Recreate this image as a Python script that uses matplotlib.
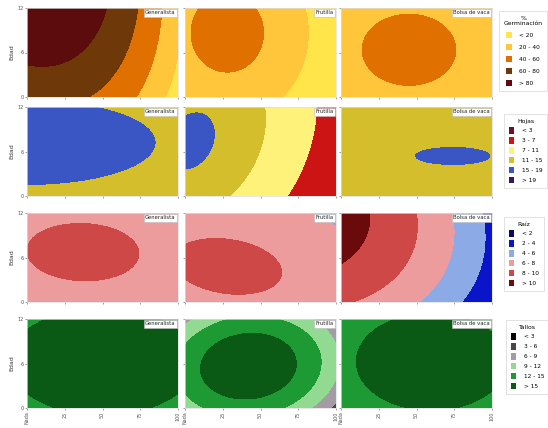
import numpy as np
import matplotlib
matplotlib.use("Agg")
import matplotlib.pyplot as plt
from matplotlib.patches import Patch

# ---------------- data ----------------
treatments = ["Generalista", "Frutilla", "Bolsa de vaca"]
x_ticklabels = ["Nada", "25", "50", "75", "100"]
y_ticklabels = ["0", "6", "12"]
y_label = "Edad"

# response surface per panel: [cx, cy, z0, D, E, A, B, C, p]
# z = z0 + D*dx + E*dy - (-(A*dx^2 + B*dy^2 + C*dx*dy))^(p/2)

# row 1: % germination
germ_title = "%\nGerminación"
germ_levels = [20, 40, 60, 80]
germ_labels = ["< 20", "20 - 40", "40 - 60", "60 - 80", "> 80"]
germ_colors = ["#FFE44A", "#FFC63C", "#E07000", "#6E3808", "#5C0C0C"]
germ_surfaces = [
    [0.00, 1.00, 101.5, 0.0, 25.7, -77.0, -12.6, -23.6, 2],
    [0.28, 0.72, 45.0, 0.0, 0.0, -86.8, -25.8, 0.0, 2],
    [0.45, 0.53, 45.0, 0.0, 0.0, -52.0, -31.3, 0.0, 2],
]

# row 2: leaves
hojas_title = "Hojas"
hojas_levels = [3, 7, 11, 15, 19]
hojas_labels = ["< 3", "3 - 7", "7 - 11", "11 - 15", "15 - 19", "> 19"]
hojas_colors = ["#6B1028", "#CC1414", "#FFF27A", "#D4BE2C", "#3A56C4", "#3C1464"]
hojas_surfaces = [
    [0.00, 0.60, 17.0, 0.0, 0.0, -2.78, -9.05, 0.0, 2],
    [0.00, 0.60, 17.3, 3.5, 0.0, -250.0, -60.0, 60.0, 1],
    [0.74, 0.45, 15.05, 0.0, 0.0, -0.83, -5.5, 0.0, 2],
]

# row 3: roots
raiz_title = "Raíz"
raiz_levels = [2, 4, 6, 8, 10]
raiz_labels = ["< 2", "2 - 4", "4 - 6", "6 - 8", "8 - 10", "> 10"]
raiz_colors = ["#0A0A5A", "#0A14C8", "#8CAAE6", "#EC9C9C", "#CF4848", "#6A0A0A"]
raiz_surfaces = [
    [0.37, 0.56, 8.3, 0.0, 0.0, -2.19, -2.9, -0.25, 2],
    [0.28, 0.40, 8.3, 0.0, 0.0, -2.43, -3.21, -1.2, 2],
    [-0.60, 1.20, 12.1, 0.0, 0.0, -3.6, -2.6, -1.6, 2],
]

# row 4: stems
tallos_title = "Tallos"
tallos_levels = [3, 6, 9, 12, 15]
tallos_labels = ["< 3", "3 - 6", "6 - 9", "9 - 12", "12 - 15", "> 15"]
tallos_colors = ["#050505", "#4C4646", "#A49CA4", "#92DA92", "#1E9A34", "#0A5A16"]
tallos_surfaces = [
    [0.50, 0.52, 17.0, 0.0, 0.0, -5.19, -5.55, 0.0, 2],
    [0.42, 0.47, 17.3, 0.0, 0.0, -23.0, -17.0, 3.0, 2],
    [0.60, 0.52, 17.0, 0.0, 0.0, -8.06, -6.68, 0.0, 2],
]

rows = [
    (germ_title, germ_levels, germ_labels, germ_colors, germ_surfaces),
    (hojas_title, hojas_levels, hojas_labels, hojas_colors, hojas_surfaces),
    (raiz_title, raiz_levels, raiz_labels, raiz_colors, raiz_surfaces),
    (tallos_title, tallos_levels, tallos_labels, tallos_colors, tallos_surfaces),
]

# ---------------- layout ----------------
W, H = 548, 428
fig = plt.figure(figsize=(W / 100, H / 100), dpi=100)
col_left = [27, 185, 341]
col_w = 151
row_top = [8, 107, 213, 319]
row_h = 89
legend_pos = [(496, 8), (501, 111), (501, 214), (503, 317)]
legend_spacing = [0.95, 0.62, 0.62, 0.62]

gx = np.linspace(0, 1, 400)
gy = np.linspace(0, 1, 400)
X, Y = np.meshgrid(gx, gy)

for r, (title, levels, labels, colors, surfaces) in enumerate(rows):
    bounds = [-1e9] + list(levels) + [1e9]
    for c in range(3):
        ax = fig.add_axes([col_left[c] / W, 1 - (row_top[r] + row_h) / H,
                           col_w / W, row_h / H])
        cx, cy, z0, D, E, A, B, C, p = surfaces[c]
        dx = X - cx
        dy = Y - cy
        Q = np.clip(-(A * dx ** 2 + B * dy ** 2 + C * dx * dy), 0, None)
        Z = z0 + D * dx + E * dy - Q ** (p / 2.0)
        ax.contourf(X, Y, Z, levels=bounds, colors=colors)
        ax.set_xlim(0, 1)
        ax.set_ylim(0, 1)
        ax.set_xticks([0, 0.25, 0.5, 0.75, 1])
        ax.set_yticks([0, 0.5, 1])
        ax.tick_params(length=1.5, width=0.4, pad=1, labelsize=3.5, colors="#555555")
        if r == 3:
            ax.set_xticklabels(x_ticklabels, rotation=90)
        else:
            ax.set_xticklabels([])
        if c == 0:
            ax.set_yticklabels(y_ticklabels)
            ax.set_ylabel(y_label, fontsize=4.5, labelpad=2, color="#333333")
        else:
            ax.set_yticklabels([])
        for s in ax.spines.values():
            s.set_color("#DDDDDD")
            s.set_linewidth(0.5)
        ax.text(0.985, 0.975, treatments[c], transform=ax.transAxes,
                ha="right", va="top", fontsize=3.8, color="#222222",
                bbox=dict(boxstyle="square,pad=0.25", fc="white", ec="#BBBBBB", lw=0.4))
    handles = [Patch(facecolor=col, edgecolor="none") for col in colors]
    lx, ly = legend_pos[r]
    leg = fig.legend(handles, labels, title=title, loc="upper left",
                     bbox_to_anchor=(lx / W, 1 - ly / H), bbox_transform=fig.transFigure,
                     fontsize=4.2, title_fontsize=4.4, frameon=True, fancybox=False,
                     handlelength=1.0, handleheight=1.3, labelspacing=legend_spacing[r],
                     borderpad=0.8, handletextpad=1.3, alignment="center")
    leg.get_title().set_multialignment("center")
    leg.get_frame().set_edgecolor("#CCCCCC")
    leg.get_frame().set_linewidth(0.5)

fig.savefig("out.png", dpi=100)
